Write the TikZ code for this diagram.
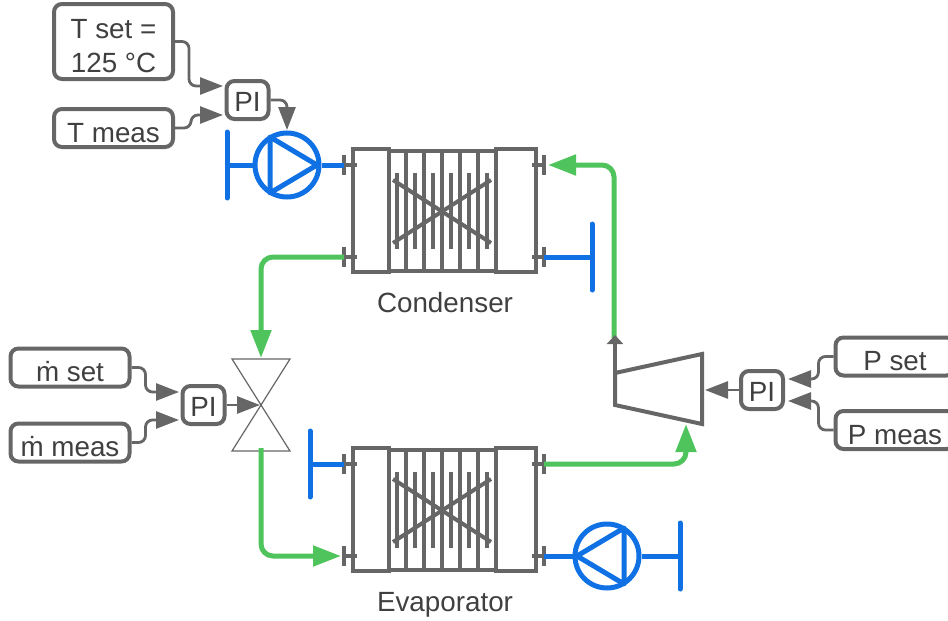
\documentclass[tikz,border=0pt]{standalone}
\usepackage{fontspec}
\setmainfont{Liberation Sans}
\usetikzlibrary{arrows.meta}
\definecolor{plantink}{HTML}{666666}
\definecolor{planttext}{HTML}{404040}
\definecolor{plantblue}{HTML}{1071E5}
\definecolor{plantgreen}{HTML}{4FC45C}

\begin{document}
\begin{tikzpicture}[x=1pt, y=-1pt,
    every node/.style={planttext, font=\fontsize{27.8}{34}\selectfont},
    box/.style={draw=plantink, line width=4pt, rounded corners=8pt, inner sep=0pt,
                minimum width=119pt, minimum height=38pt, align=center,
                text height=28pt, text depth=0pt},
    pibox/.style={box, minimum width=42pt, text height=22pt},
    signal/.style={draw=plantink, line width=2.8pt, rounded corners=7pt,
                   -{Triangle[length=23pt, width=17pt]}},
    hot/.style={draw=plantgreen, line width=5pt, rounded corners=12pt,
                -{Triangle[length=28pt, width=20pt]}},
    water/.style={draw=plantblue, line width=5pt},
    bar/.style={water, line cap=round},
    hull/.style={draw=plantink, line width=4pt},
    pumpring/.style={circle, draw=plantblue, line width=5pt, inner sep=0pt, minimum size=64pt}]

\useasboundingbox (0,0) rectangle (948,621);

%% ==== heat exchangers: condenser on top, evaporator 299 below ====
\foreach \hxname/\hxshift in {cond/0, evap/-299} {
\begin{scope}[yshift=\hxshift pt]

  %% headers and core
  \draw[hull] (389,151) rectangle (496,271);
  \draw[hull, fill=white] (353,149) rectangle (389,272);
  \draw[hull, fill=white] (496,149) rectangle (536,272);

  %% plates, long ones from the top edge to the bottom edge
  \foreach \platex in {406,424,442,460,478}
    \draw[hull] (\platex,151) -- (\platex,271);
  \foreach \platex in {397,415,433,451,469,487}
    \draw[hull] (\platex,173) -- (\platex,249);

  %% the cross
  \draw[hull] (393,180) -- (491,243);
  \draw[hull] (393,243) -- (491,180);

  %% flanges
  \foreach \flangex/\flangeend/\flangey/\flangename in
      {344/357/165/LU, 344/357/257/LL, 544/532/165/RU, 544/532/257/RL} {
    \draw[hull] (\flangex,\flangey-10) -- (\flangex,\flangey+10);
    \draw[hull] (\flangex,\flangey) -- (\flangeend,\flangey);
    \coordinate (\hxname\flangename) at (\flangex,\flangey);
  }

\end{scope}
}

\node[anchor=base] (condlabel) at (445,312) {Condenser};
\node[anchor=base] (evaplabel) at (445,611) {Evaporator};

%% ==== expansion valve ====
\draw[plantink, line width=1.2pt] (232,359) -- (290,359) -- (232,451) -- (290,451) -- cycle;
\coordinate (valve) at (260,405);
\coordinate (valvein) at (261,358);
\coordinate (valveout) at (261,448);

%% ==== compressor ====
\draw[hull, line join=miter] (615,373) -- (702,354) -- (702,424) -- (615,405) -- cycle;
\coordinate (compin) at (686,424);
\coordinate (compout) at (615,373);
\coordinate (compctl) at (705,390);
\coordinate (risertop) at (614,338);

%% ==== working fluid ====
\draw[hot] (condLL) -| (valvein);
\draw[hot, shorten >=3pt] (valveout) |- (evapLL);
\draw[hot] (evapRU) -| (compin);
\draw[hot, shorten >=4pt] (risertop) |- (condRU);
\draw[draw=plantink, line width=4pt, -{Triangle[length=9pt, width=16pt]}]
  (compout) -- ++(0,-38);

%% ==== water circuits ====
\node[pumpring] (pumpcond) at (287,165) {};
\node[pumpring] (pumpevap) at (607,556) {};
\draw[water, line join=round] (270,137) -- (270,193) -- (317,165) -- cycle;
\draw[water, line join=round] (624,528) -- (624,584) -- (577,556) -- cycle;

\coordinate (barcond) at (227,165);
\coordinate (barcondb) at (592,257);
\coordinate (barevap) at (310,464);
\coordinate (barevapb) at (680,556);
\foreach \barname in {barcond, barcondb, barevap, barevapb}
  \draw[bar] (\barname) ++(0,-33) -- ++(0,66);

\draw[water] (barcond) -- (pumpcond);
\draw[water] (pumpcond) -- (condLU);
\draw[water] (condRL) -- (barcondb);
\draw[water] (barevap) -- (evapLU);
\draw[water] (evapRL) -- (pumpevap);
\draw[water] (pumpevap) -- (barevapb);

%% ==== controllers: temperature ====
\node[box, minimum height=75pt, text height=62pt] (tset) at (113.5,41.5) {T set =\\125 °C};
\node[box] (tmeas) at (113.5,128) {T meas};
\node[pibox] (pitemp) at (247.5,100) {PI};
\coordinate (pitempa) at (223,86);
\coordinate (pitempb) at (223,115);
\coordinate (pumpctl) at (287,130);
\draw[signal] (tset.east) -- ++(14,0) |- (pitempa);
\draw[signal] (tmeas.east) -- ++(16,0) |- (pitempb);
\draw[signal] (pitemp.east) -| (pumpctl);

%% ==== controllers: mass flow ====
\node[box] (mset) at (70,367.5) {ṁ set};
\node[box] (mmeas) at (70,442.5) {ṁ meas};
\node[pibox] (piflow) at (203.5,405) {PI};
\coordinate (piflowa) at (179,392);
\coordinate (piflowb) at (179,420);
\draw[signal] (mset.east) -- ++(14,0) |- (piflowa);
\draw[signal] (mmeas.east) -- ++(14,0) |- (piflowb);
\draw[signal] (piflow.east) -- (valve);

%% ==== controllers: pressure, the two boxes run over the right edge ====
\node[box] (pset) at (895,356.5) {P set};
\node[box] (pmeas) at (895,430) {P meas};
\node[pibox] (pipress) at (762,390) {PI};
\coordinate (pipressa) at (788,379);
\coordinate (pipressb) at (788,401);
\draw[signal] (pset.west) -- ++(-15,0) |- (pipressa);
\draw[signal] (pmeas.west) -- ++(-15,0) |- (pipressb);
\draw[signal] (pipress.west) -- (compctl);

\end{tikzpicture}
\end{document}
